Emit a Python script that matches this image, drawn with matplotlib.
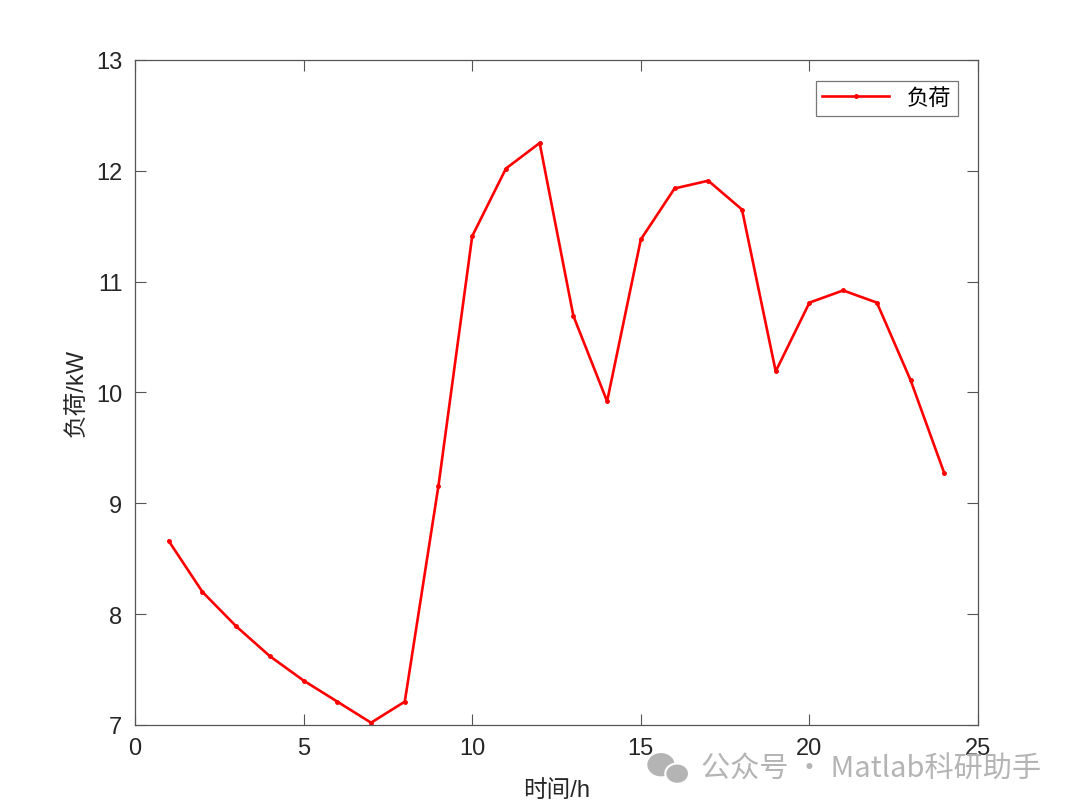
import matplotlib.pyplot as plt
from matplotlib.patches import Ellipse

# Hourly load data
hours = list(range(1, 25))
load = [8.66, 8.20, 7.89, 7.62, 7.40, 7.21, 7.02, 7.21, 9.16, 11.41, 12.02, 12.25,
        10.69, 9.92, 11.38, 11.84, 11.91, 11.65, 10.19, 10.81, 10.92, 10.81, 10.11, 9.27]
x_ticks = [0, 5, 10, 15, 20, 25]
y_ticks = [7, 8, 9, 10, 11, 12, 13]

plt.rcParams['font.family'] = ['Liberation Sans', 'Noto Sans CJK SC', 'DejaVu Sans']
axis_color = "#262626"
spine_color = "#555555"

fig = plt.figure(figsize=(10.8, 8.12), dpi=100)
ax = fig.add_axes([0.125, 0.106, 0.7806, 0.819])

ax.plot(hours, load, color="red", linewidth=1.9, marker=".", markersize=5, label="负荷")

ax.set_xlim(0, 25)
ax.set_ylim(7, 13)
ax.set_xticks(x_ticks)
ax.set_yticks(y_ticks)
ax.tick_params(direction="in", top=True, right=True, length=8, width=0.8,
               labelsize=17, colors=axis_color, pad=9)
ax.tick_params(axis="both", color=spine_color)
for spine in ax.spines.values():
    spine.set_color(spine_color)
    spine.set_linewidth(0.9)

ax.set_xlabel("时间/h", fontsize=17, color=axis_color, labelpad=14)
ax.set_ylabel("负荷/kW", fontsize=17, color=axis_color, labelpad=6)

leg = ax.legend(loc="upper right", fontsize=16, frameon=True, fancybox=False,
                edgecolor=spine_color, handlelength=3.0, borderpad=0.3,
                borderaxespad=0, bbox_to_anchor=(0.976, 0.968))
leg.get_frame().set_linewidth(0.9)

# Watermark at bottom right (icon + text)
fig.patches.append(Ellipse((0.612, 0.057), 0.024, 0.027, transform=fig.transFigure,
                           color="#b4b4b4", zorder=5))
fig.patches.append(Ellipse((0.627, 0.046), 0.022, 0.025, transform=fig.transFigure,
                           color="#b4b4b4", ec="white", lw=1.5, zorder=6))
fig.text(0.649, 0.052, "公众号 · Matlab科研助手", fontsize=21, color="#b4b4b4",
         family=['Noto Sans CJK SC', 'DejaVu Sans'], ha="left", va="center")

fig.savefig("out.png", dpi=100, facecolor="white")
